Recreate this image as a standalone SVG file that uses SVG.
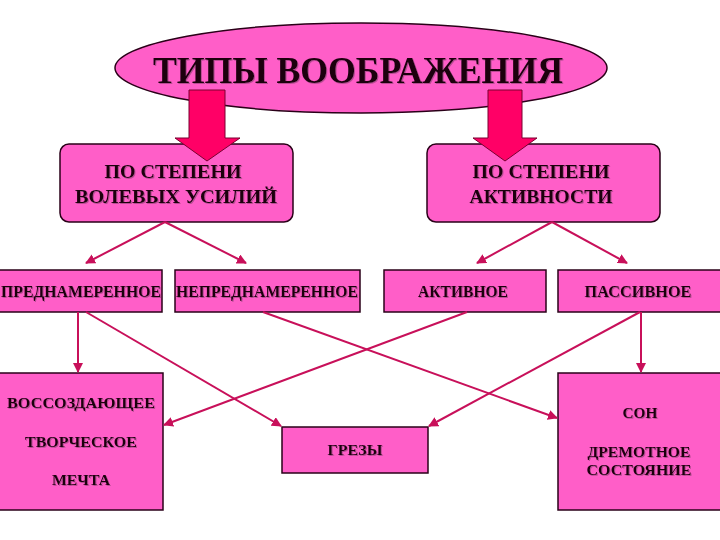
<svg xmlns="http://www.w3.org/2000/svg" width="720" height="540" viewBox="0 0 720 540">
<defs>
<style>
.box{fill:#FF5EC8;stroke:#2A0018;stroke-width:1.5}
.t{font-family:"Liberation Serif","Times New Roman",serif;font-weight:bold;fill:#1E0010;text-anchor:middle;filter:url(#sh)}
.c{stroke:#C8105A;stroke-width:2;fill:none;marker-end:url(#ah)}
.big{fill:#FF0066;stroke:#7A0030;stroke-width:1}
</style>
<filter id="sh" x="-5%" y="-20%" width="110%" height="140%">
<feDropShadow dx="1" dy="1" stdDeviation="0.4" flood-color="#8A4070" flood-opacity="0.6"/>
</filter>
<marker id="ah" viewBox="0 0 10 10" refX="9" refY="5" markerWidth="5" markerHeight="5" orient="auto" markerUnits="strokeWidth">
<path d="M0,0 L10,5 L0,10 z" fill="#C8105A"/>
</marker>
</defs>
<rect width="720" height="540" fill="#FFFFFF"/>

<g id="title">
<ellipse class="box" cx="361" cy="68" rx="246" ry="45"/>
<text class="t" x="358" y="83" font-size="38" textLength="410" lengthAdjust="spacingAndGlyphs">ТИПЫ ВООБРАЖЕНИЯ</text>
</g>

<g id="volevye">
<rect class="box" x="60" y="144" width="233" height="78" rx="9"/>
<text class="t" x="173" y="178" font-size="19" textLength="137" lengthAdjust="spacingAndGlyphs">ПО СТЕПЕНИ</text>
<text class="t" x="176" y="203" font-size="19" textLength="202" lengthAdjust="spacingAndGlyphs">ВОЛЕВЫХ УСИЛИЙ</text>
</g>

<g id="aktivnost">
<rect class="box" x="427" y="144" width="233" height="78" rx="9"/>
<text class="t" x="541" y="178" font-size="19" textLength="137" lengthAdjust="spacingAndGlyphs">ПО СТЕПЕНИ</text>
<text class="t" x="541" y="203" font-size="19" textLength="143" lengthAdjust="spacingAndGlyphs">АКТИВНОСТИ</text>
</g>

<g id="bigarrows">
<path class="big" d="M189,90 L225,90 L225,138 L240,138 L207,161 L175,138 L189,138 Z"/>
<path class="big" d="M488,90 L522,90 L522,138 L537,138 L505,161 L473,138 L488,138 Z"/>
</g>

<g id="prednamerennoe">
<rect class="box" x="-2" y="270" width="164" height="42"/>
<text class="t" x="81" y="297" font-size="16" textLength="160" lengthAdjust="spacingAndGlyphs">ПРЕДНАМЕРЕННОЕ</text>
</g>
<g id="neprednamerennoe">
<rect class="box" x="175" y="270" width="185" height="42"/>
<text class="t" x="267" y="297" font-size="16" textLength="182" lengthAdjust="spacingAndGlyphs">НЕПРЕДНАМЕРЕННОЕ</text>
</g>
<g id="aktivnoe">
<rect class="box" x="384" y="270" width="162" height="42"/>
<text class="t" x="463" y="297" font-size="16" textLength="90" lengthAdjust="spacingAndGlyphs">АКТИВНОЕ</text>
</g>
<g id="passivnoe">
<rect class="box" x="558" y="270" width="164" height="42"/>
<text class="t" x="638" y="297" font-size="16" textLength="107" lengthAdjust="spacingAndGlyphs">ПАССИВНОЕ</text>
</g>

<g id="vossozdayushchee">
<rect class="box" x="-2" y="373" width="165" height="137"/>
<text class="t" x="81" y="408" font-size="15" textLength="148" lengthAdjust="spacingAndGlyphs">ВОССОЗДАЮЩЕЕ</text>
<text class="t" x="81" y="447" font-size="15" textLength="112" lengthAdjust="spacingAndGlyphs">ТВОРЧЕСКОЕ</text>
<text class="t" x="81" y="485" font-size="15" textLength="58" lengthAdjust="spacingAndGlyphs">МЕЧТА</text>
</g>

<g id="grezy">
<rect class="box" x="282" y="427" width="146" height="46"/>
<text class="t" x="355" y="455" font-size="15" textLength="55" lengthAdjust="spacingAndGlyphs">ГРЕЗЫ</text>
</g>

<g id="son">
<rect class="box" x="558" y="373" width="164" height="137"/>
<text class="t" x="640" y="418" font-size="15" textLength="35" lengthAdjust="spacingAndGlyphs">СОН</text>
<text class="t" x="639" y="457" font-size="15" textLength="103" lengthAdjust="spacingAndGlyphs">ДРЕМОТНОЕ</text>
<text class="t" x="639" y="475" font-size="15" textLength="105" lengthAdjust="spacingAndGlyphs">СОСТОЯНИЕ</text>
</g>

<g id="connectors">
<line class="c" x1="165" y1="222" x2="86" y2="263"/>
<line class="c" x1="165" y1="222" x2="246" y2="263"/>
<line class="c" x1="552" y1="222" x2="477" y2="263"/>
<line class="c" x1="552" y1="222" x2="627" y2="263"/>
<line class="c" x1="78" y1="312" x2="78" y2="372"/>
<line class="c" x1="86" y1="312" x2="281" y2="426"/>
<line class="c" x1="263" y1="312" x2="557" y2="418"/>
<line class="c" x1="467" y1="312" x2="164" y2="425"/>
<line class="c" x1="640" y1="312" x2="429" y2="426"/>
<line class="c" x1="641" y1="312" x2="641" y2="372"/>
</g>
</svg>
